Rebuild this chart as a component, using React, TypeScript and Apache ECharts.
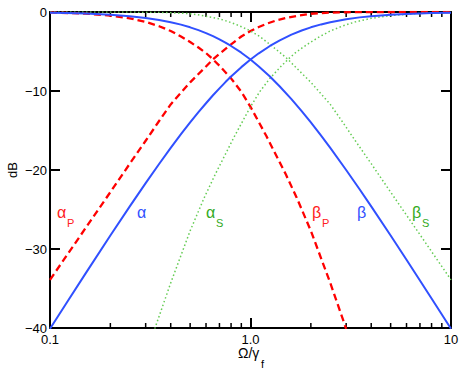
import React, { useEffect, useRef } from "react";
import * as echarts from "echarts";

// ---- data ----
const freqAB = [0.1, 0.12, 0.15, 0.2, 0.25, 0.3, 0.35, 0.4, 0.45, 0.5, 0.55, 0.6, 0.65, 0.7, 0.75, 0.8, 0.9, 1, 1.1, 1.25, 1.4, 1.6, 1.8, 2, 2.25, 2.5, 3, 3.5, 4, 5, 6, 7, 8, 10];
const alphaDb = [-40.09, -36.96, -33.15, -28.3, -24.61, -21.66, -19.24, -17.21, -15.47, -13.98, -12.68, -11.55, -10.54, -9.66, -8.87, -8.17, -6.98, -6.02, -5.23, -4.3, -3.58, -2.86, -2.34, -1.94, -1.57, -1.29, -0.92, -0.68, -0.53, -0.34, -0.24, -0.18, -0.13, -0.09];
const betaDb = [-0.09, -0.12, -0.19, -0.34, -0.53, -0.75, -1.0, -1.29, -1.6, -1.94, -2.3, -2.67, -3.06, -3.46, -3.88, -4.3, -5.15, -6.02, -6.89, -8.17, -9.43, -11.03, -12.55, -13.98, -15.65, -17.21, -20.0, -22.44, -24.61, -28.3, -31.36, -33.98, -36.26, -40.09];

const freqAlphaP = [0.1, 0.15, 0.2, 0.25, 0.3, 0.35, 0.4, 0.5, 0.6, 0.65, 0.7, 0.8, 0.9, 1.0, 1.1, 1.2, 1.35, 1.5, 1.7, 1.87, 2.0, 2.5, 3.0, 4, 5, 7, 10];
const alphaPDb = [-33.9, -27.4, -22.8, -19.2, -16.3, -13.8, -11.7, -8.9, -6.9, -6.0, -5.3, -4.1, -3.1, -2.4, -1.9, -1.5, -1.05, -0.75, -0.5, -0.32, -0.22, -0.08, -0.03, -0.01, 0, 0, 0];

const freqBetaP = [0.1, 0.15, 0.2, 0.25, 0.3, 0.35, 0.4, 0.45, 0.5, 0.55, 0.6, 0.65, 0.7, 0.8, 0.9, 1.0, 1.2, 1.5, 1.7, 2.0, 2.5, 3.0];
const betaPDb = [-0.05, -0.2, -0.45, -0.8, -1.25, -1.8, -2.4, -3.1, -3.8, -4.5, -5.2, -6.0, -6.8, -8.4, -10.1, -12.0, -15.7, -20.55, -23.5, -27.7, -34.3, -40.1];

const freqAlphaS = [0.333, 0.4, 0.5, 0.588, 0.667, 0.833, 1.0, 1.111, 1.25, 1.429, 1.538, 1.667, 1.818, 2.0, 2.222, 2.5, 2.857, 3.333, 4, 5, 6.667, 10];
const alphaSDb = [-40.1, -34.3, -27.7, -23.5, -20.55, -15.7, -12.0, -10.1, -8.4, -6.8, -6.0, -5.2, -4.5, -3.8, -3.1, -2.4, -1.8, -1.25, -0.8, -0.45, -0.2, -0.05];

const freqBetaS = [0.1, 0.143, 0.2, 0.25, 0.333, 0.4, 0.5, 0.535, 0.588, 0.667, 0.741, 0.833, 0.909, 1.0, 1.111, 1.25, 1.429, 1.538, 1.667, 2.0, 2.5, 2.857, 3.333, 4, 5, 6.667, 10];
const betaSDb = [0, 0, 0, -0.01, -0.03, -0.08, -0.22, -0.32, -0.5, -0.75, -1.05, -1.5, -1.9, -2.4, -3.1, -4.1, -5.3, -6.0, -6.9, -8.9, -11.7, -13.8, -16.3, -19.2, -22.8, -27.4, -33.9];

const minorTickPos = [0.2, 0.3, 0.4, 0.5, 0.6, 0.7, 0.8, 0.9, 2, 3, 4, 5, 6, 7, 8, 9];
const yTicks = [0, -10, -20, -30, -40];

const FONT = "'Liberation Sans', Arial, Helvetica, sans-serif";
const BLUE = "#3050ff";
const RED = "#ff0000";
const GREEN = "#66cc55";
const GREEN_TXT = "#33aa22";
const RED_TXT = "#ff2020";

const pairs = (xs: number[], ys: number[]) => xs.map((x, i) => [x, ys[i]]);

export default function App() {
  const ref = useRef<HTMLDivElement>(null);
  useEffect(() => {
    if (!ref.current) return;
    const chart = echarts.init(ref.current, null, { renderer: "svg" });
    const xFmt = (v: number) => {
      if (Math.abs(v - 1) < 1e-9) return "1.0";
      return String(+Number(v).toPrecision(3));
    };
    const yFmt = (v: number) => (v === 0 ? "0" : "\u2212" + Math.abs(v));
    const axisLine = { show: true, onZero: false, lineStyle: { color: "#000", width: 2 } };
    const tick = { show: true, inside: true, length: 10, lineStyle: { color: "#000", width: 2 } };
    const txt = (text: string, x: number, y: number, size: number, color: string) => ({
      type: "text",
      x,
      y,
      silent: true,
      style: { text, fill: color, font: `${size}px ${FONT}`, verticalAlign: "bottom", lineHeight: size },
    });
    const lineSeries = (name: string, data: number[][], color: string, type: any, width: number) => ({
      name,
      type: "line",
      data,
      showSymbol: false,
      symbol: "none",
      clip: true,
      smooth: false,
      lineStyle: { color, width, type, cap: "butt", join: "round" },
      xAxisIndex: 0,
      yAxisIndex: 0,
    });
    chart.setOption({
      animation: false,
      backgroundColor: "#fff",
      grid: { left: 50, top: 12, width: 401, height: 316, containLabel: false },
      xAxis: [
        {
          type: "log",
          logBase: 10,
          min: 0.1,
          max: 10,
          position: "bottom",
          axisLine,
          axisTick: tick,
          splitLine: { show: false },
          minorTick: { show: false },
          axisLabel: { formatter: xFmt, color: "#000", fontSize: 13, lineHeight: 12, fontFamily: FONT, margin: 5, showMinLabel: true, showMaxLabel: true },
        },
        {
          type: "log",
          logBase: 10,
          min: 0.1,
          max: 10,
          position: "top",
          axisLine,
          axisTick: tick,
          splitLine: { show: false },
          axisLabel: { show: false },
        },
      ],
      yAxis: [
        {
          type: "value",
          min: -40,
          max: 0,
          interval: 10,
          position: "left",
          axisLine,
          axisTick: tick,
          splitLine: { show: false },
          axisLabel: { formatter: yFmt, color: "#000", fontSize: 13, fontFamily: FONT, margin: 3 },
        },
        {
          type: "value",
          min: -40,
          max: 0,
          interval: 10,
          position: "right",
          axisLine,
          axisTick: tick,
          splitLine: { show: false },
          axisLabel: { show: false },
        },
      ],
      series: [
        lineSeries("αP", pairs(freqAlphaP, alphaPDb), RED, [7, 4], 2.3),
        lineSeries("βP", pairs(freqBetaP, betaPDb), RED, [7, 4], 2.3),
        lineSeries("αS", pairs(freqAlphaS, alphaSDb), GREEN, [1.5, 2.5], 1.5),
        lineSeries("βS", pairs(freqBetaS, betaSDb), GREEN, [1.5, 2.5], 1.5),
        lineSeries("α", pairs(freqAB, alphaDb), BLUE, "solid", 2),
        lineSeries("β", pairs(freqAB, betaDb), BLUE, "solid", 2),
        {
          type: "custom",
          silent: true,
          clip: false,
          xAxisIndex: 0,
          yAxisIndex: 0,
          data: minorTickPos.map((v) => [v, yTicks[yTicks.length - 1]]),
          encode: { x: 0, y: 1 },
          renderItem: (params: any, api: any) => {
            const v = api.value(0);
            const b = api.coord([v, yTicks[yTicks.length - 1]]);
            const t = api.coord([v, yTicks[0]]);
            return {
              type: "group",
              children: [
                { type: "line", shape: { x1: b[0], y1: b[1], x2: b[0], y2: b[1] - 5 }, style: { stroke: "#000", lineWidth: 1.5 } },
                { type: "line", shape: { x1: t[0], y1: t[1], x2: t[0], y2: t[1] + 5 }, style: { stroke: "#000", lineWidth: 1.5 } },
              ],
            };
          },
        },
      ],
      graphic: [
        txt("α", 57, 220, 16, RED_TXT),
        txt("P", 67, 228, 11, RED_TXT),
        txt("α", 137, 220, 16, BLUE),
        txt("α", 206, 220, 16, GREEN_TXT),
        txt("S", 216, 228, 11, GREEN_TXT),
        txt("β", 312, 220, 16, RED_TXT),
        txt("P", 322, 228, 11, RED_TXT),
        txt("β", 357, 220, 16, BLUE),
        txt("β", 412, 220, 16, GREEN_TXT),
        txt("S", 422, 228, 11, GREEN_TXT),
        {
          type: "text",
          x: 238,
          y: 347,
          silent: true,
          style: { text: "Ω/γ", fill: "#000", font: `14px ${FONT}`, verticalAlign: "top", lineHeight: 12 },
        },
        txt("f", 261, 369, 11, "#000"),
        {
          type: "text",
          x: 12,
          y: 170,
          rotation: Math.PI / 2,
          silent: true,
          style: { text: "dB", fill: "#000", font: `13px ${FONT}`, align: "center", verticalAlign: "middle" },
        },
      ],
    });
    return () => chart.dispose();
  }, []);
  return <div ref={ref} style={{ position: "fixed", left: 0, top: 0, width: 463, height: 371 }} />;
}
